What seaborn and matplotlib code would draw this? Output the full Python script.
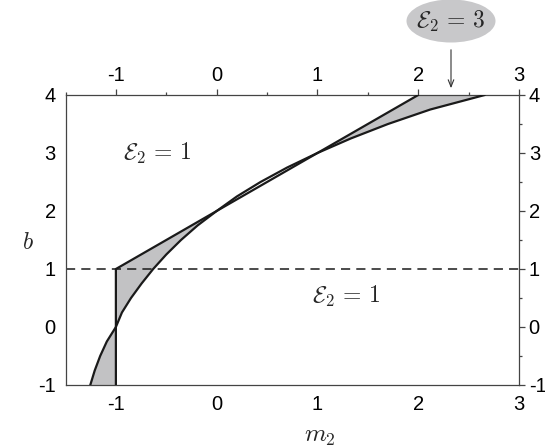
import numpy as np
import matplotlib
matplotlib.use("Agg")
import matplotlib.pyplot as plt
from matplotlib.patches import Ellipse
import seaborn as sns

# ---- data ----
curve_b = [-1.0, -0.75, -0.5, -0.25, 0.0, 0.25, 0.5, 0.75, 1.0, 1.25, 1.5, 1.75,
           2.0, 2.25, 2.5, 2.75, 3.0, 3.25, 3.5, 3.75, 4.0]
curve_m2 = [-1.254, -1.21, -1.156, -1.09, -1.0, -0.94, -0.85, -0.745, -0.63, -0.50,
            -0.354, -0.19, 0.0, 0.2, 0.435, 0.70, 1.0, 1.33, 1.70, 2.12, 2.66]
# boundary polyline: vertical segment at m2=-1 then straight line up to (2,4)
bound_m2 = [-1.0, -1.0, 2.0]
bound_b = [-1.0, 1.0, 4.0]
dash_b = 1.0
xticks = [-1, 0, 1, 2, 3]
yticks = [-1, 0, 1, 2, 3, 4]
label_E1 = r"$\mathcal{E}_2\,=\,1$"
label_E3 = r"$\mathcal{E}_2\,=\,3$"

sns.set_style("white")
plt.rcParams["font.family"] = ["Liberation Sans", "DejaVu Sans"]
plt.rcParams["mathtext.fontset"] = "cm"

fig = plt.figure(figsize=(5.45, 4.47), dpi=100)
ax = fig.add_axes([65.5 / 545, 1 - 385 / 447, (519 - 65.5) / 545, (385 - 95) / 447])

cb = np.array(curve_b)
cm = np.array(curve_m2)
left = np.interp(cb, bound_b, bound_m2)
ax.fill_betweenx(cb, cm, left, where=(cb <= 2.0) | (cb >= 3.0),
                 color="#c2c2c4", linewidth=0, zorder=1)

ax.axhline(dash_b, color="#1a1a1a", lw=1.1, ls=(0, (6, 4)), zorder=2)
sns.lineplot(x=curve_m2, y=curve_b, sort=False, estimator=None, ax=ax,
             color="#1a1a1a", lw=1.6, zorder=3)
sns.lineplot(x=bound_m2, y=bound_b, sort=False, estimator=None, ax=ax,
             color="#1a1a1a", lw=1.6, zorder=3)

ax.set_xlim(-1.5, 3)
ax.set_ylim(-1, 4)
ax.set_xticks(xticks)
ax.set_yticks(yticks)
ax.set_xticks(np.arange(-1.5, 3.01, 0.5), minor=True)
ax.set_yticks(np.arange(-1, 4.01, 0.5), minor=True)
ax.set_xticklabels([str(t) for t in xticks])
ax.set_yticklabels([str(t) for t in yticks])
ax.tick_params(which="both", direction="out", top=True, right=True,
               labeltop=True, labelright=True, colors="#444444",
               labelcolor="black", labelsize=14.5, width=0.9)
ax.tick_params(which="major", length=4.5, pad=2.5)
ax.tick_params(which="minor", length=2.5)
for s in ax.spines.values():
    s.set_color("#444444")
    s.set_linewidth(0.9)

ax.text(-0.59, 3.0, label_E1, fontsize=17, ha="center", va="center")
ax.text(1.29, 0.52, label_E1, fontsize=17, ha="center", va="center")

fig.text(28 / 545, 1 - 243 / 447, r"$b$", fontsize=17, ha="center", va="center")
fig.text(320 / 545, 1 - 436 / 447, r"$m_2$", fontsize=18, ha="center", va="center")

ell = Ellipse((451 / 545, 1 - 21 / 447), 89 / 545, 43 / 447,
              transform=fig.transFigure, facecolor="#c8c8ca", edgecolor="none")
fig.add_artist(ell)
fig.text(451 / 545, 1 - 21 / 447, label_E3, fontsize=17, ha="center", va="center")
ax.annotate("", xy=(451, 447 - 91), xytext=(451, 447 - 47),
            xycoords="figure pixels", textcoords="figure pixels",
            arrowprops=dict(arrowstyle="->,head_length=0.5,head_width=0.2",
                            lw=0.8, color="#333333"))

fig.savefig("out.png", dpi=100)
